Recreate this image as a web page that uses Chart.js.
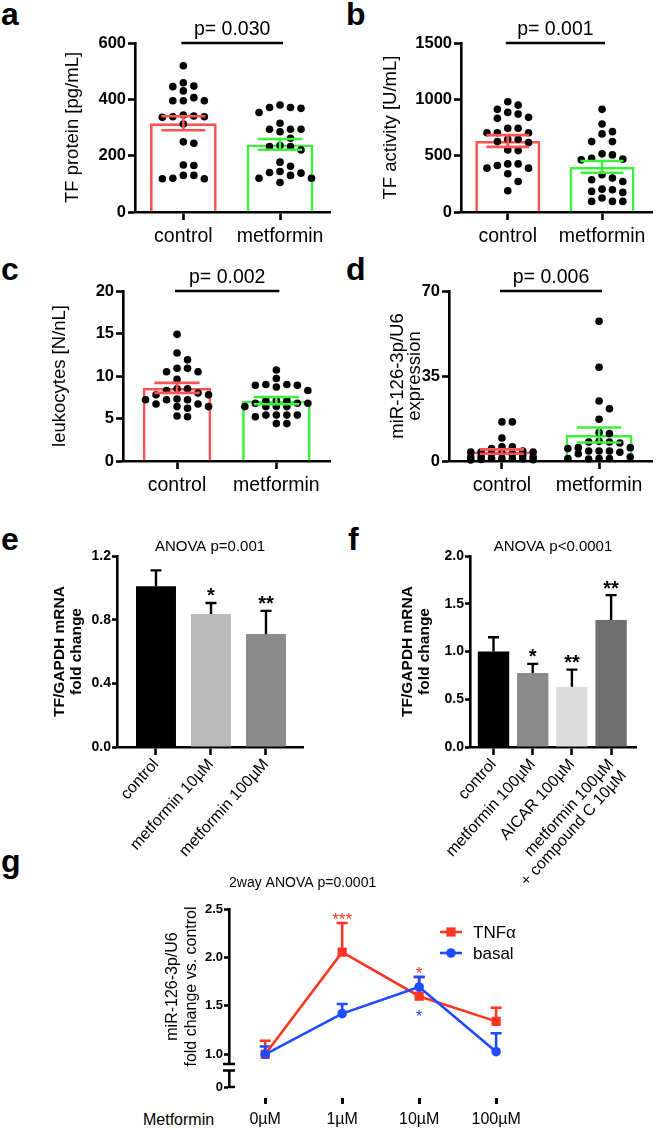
<!DOCTYPE html>
<html><head><meta charset="utf-8">
<script src="https://cdn.jsdelivr.net/npm/chart.js"></script>
<style>
html,body{margin:0;padding:0;background:#fff;}
#page{position:relative;width:656px;height:1130px;overflow:hidden;background:#fff;}
#page canvas{position:absolute;}
.lt{position:absolute;font:bold 32px 'Liberation Sans',Arial,sans-serif;line-height:32px;color:#000;}
.met{position:absolute;font:16px 'Liberation Sans',Arial,sans-serif;line-height:16px;color:#000;}
</style></head><body><div id="page">
<div class="lt" style="left:1px;top:-2px">a</div>
<div class="lt" style="left:346px;top:-2px">b</div>
<div class="lt" style="left:1px;top:253px">c</div>
<div class="lt" style="left:346px;top:253px">d</div>
<div class="lt" style="left:1px;top:523px">e</div>
<div class="lt" style="left:348px;top:523px">f</div>
<div class="lt" style="left:1px;top:845px">g</div>
<div class="met" style="left:143px;top:1112px">Metformin</div>
</div>
<script>
// ---------------- data ----------------
const cats2 = ['control', 'metformin'];

const aMean = [315, 240];
const aSem = [25, 19];
const aControl = [519,459,447,445,430,406,395,395,395,344,341,338,338,336,312,249,244,167,165,130,130,120,118,118];
const aMetformin = [380,371,371,368,353,315,294,294,294,285,262,236,232,232,220,177,162,144,140,138,130,120,120,105];
const aTicks = [0, 200, 400, 600];

const bMean = [630, 400];
const bSem = [52, 52];
const bControl = [978,949,911,884,869,840,831,743,743,704,704,704,645,645,625,616,551,545,427,427,413,389,389,339,271,189];
const bMetformin = [911,781,713,693,625,625,516,507,477,469,463,330,301,286,271,203,197,183,174,124,94,94,94];
const bTicks = [0, 500, 1000, 1500];

const cMean = [8.6, 7.1];
const cSem = [0.59, 0.43];
const cControl = [14.9,12.7,11.9,10.9,10.9,10.5,10.5,9.6,8.5,8.5,8.3,8.0,7.8,7.8,7.3,7.2,7.2,7.2,6.7,6.7,6.4,6.4,6.2,5.3,5.2];
const cMetformin = [10.7,9.7,9.0,9.0,8.9,8.9,8.7,8.3,7.1,7.1,7.1,6.8,6.8,6.8,6.4,6.4,6.4,6.4,5.4,5.4,5.4,5.4,5.2,4.4,4.4];
const cTicks = [0, 5, 10, 15, 20];

const dMean = [3.9, 10.7];
const dSem = [0.9, 3.1];
const dControl = [16.1,16.1,9.5,5.8,5.8,5.1,4.1,3.7,3.7,3.7,3.3,3.0,3.0,2.3,1.9,1.6,1.6,1.0,1.0,1.0,0.8,0.6,0.5,0.4];
const dMetformin = [57.5,38.6,24.7,21.5,17.2,11.7,11.3,8.1,7.8,7.8,7.4,5.5,5.5,5.1,4.1,4.1,4.1,3.6,3.0,1.6,1.0,1.0,1.0,0.8];
const dTicks = [0, 35, 70];

const eCats = ['control', 'metformin 10µM', 'metformin 100µM'];
const eMean = [1.01, 0.835, 0.71];
const eErr = [0.10, 0.07, 0.145];
const eStars = ['', '*', '**'];
const eTicks = [0, 0.4, 0.8, 1.2];

const fCats = ['control', 'metformin 100µM', 'AICAR 100µM', ['metformin 100µM', '+ compound C 10µM']];
const fMean = [1.0, 0.775, 0.63, 1.33];
const fErr = [0.15, 0.095, 0.18, 0.26];
const fStars = ['', '*', '**', '**'];
const fTicks = [0, 0.5, 1.0, 1.5, 2.0];

const gCats = ['0µM', '1µM', '10µM', '100µM'];
const gTnf = [1.0, 2.055, 1.60, 1.34];
const gTnfErr = [0.14, 0.30, 0.195, 0.14];
const gTnfStars = ['', '***', '*', ''];
const gBasal = [1.0, 1.42, 1.695, 1.027];
const gBasalErr = [0.08, 0.10, 0.105, 0.19];
const gBasalStarsBelow = ['', '', '*', ''];
const gTicks = [1.0, 1.5, 2.0, 2.5];
const gTicksLow = [0];

// ---------------- setup ----------------
const FONT = "'Liberation Sans', Arial, Helvetica, sans-serif";
Chart.defaults.font.family = FONT;
Chart.defaults.color = '#000';
Chart.defaults.animation = false;
Chart.defaults.events = [];
Chart.defaults.plugins.legend.display = false;
Chart.defaults.plugins.tooltip.enabled = false;

const RED = '#ff5252', GREEN = '#3ef03e';
const GRED = '#ff3422', GBLUE = '#1f4cff';
const page = document.getElementById('page');

function mk(left, top, w, h) {
  const c = document.createElement('canvas');
  c.width = w; c.height = h;
  c.style.left = left + 'px'; c.style.top = top + 'px';
  c.style.width = w + 'px'; c.style.height = h + 'px';
  page.appendChild(c);
  return c;
}

// simple beeswarm: spread overlapping points sideways, within a limited width
function swarm(vals, yPx, xPx, maxOff) {
  const STEP = 10.5, MIN = 8;
  const maxK = Math.floor(maxOff * xPx / STEP);
  const cand = [0];
  for (let k = 1; k <= maxK; k++) { cand.push(k, -k); }
  const placed = [], offs = new Array(vals.length);
  const order = vals.map((v, i) => i).sort((p, q) => vals[q] - vals[p]);
  for (const i of order) {
    const y = vals[i] * yPx;
    let best = 0, bestD = -1;
    for (const m of cand) {
      const x = m * STEP;
      let d = Infinity;
      for (const p of placed) d = Math.min(d, Math.hypot(p.x - x, p.y - y));
      if (d >= MIN) { best = x; bestD = d; break; }
      if (d > bestD) { bestD = d; best = x; }
    }
    placed.push({x: best, y});
    offs[i] = best / xPx;
  }
  return offs;
}

function drawErr(chart, under) {
  const ctx = chart.ctx;
  chart.data.datasets.forEach((ds, i) => {
    if (!ds.errs || !!ds.errUnder !== under) return;
    const meta = chart.getDatasetMeta(i);
    const ys = chart.scales[meta.yAxisID];
    meta.data.forEach((el, j) => {
      const v = ds.data[j].y, e = ds.errs[j];
      const col = Array.isArray(ds.errColor) ? ds.errColor[j] : ds.errColor;
      const top = ys.getPixelForValue(v + e);
      const bot = ds.errBoth ? ys.getPixelForValue(v - e) : el.y;
      const hw = ds.capFrac ? el.width * ds.capFrac / 2 : ds.capHalf;
      ctx.save();
      ctx.strokeStyle = col; ctx.lineWidth = ds.errWidth;
      ctx.beginPath();
      ctx.moveTo(el.x, bot); ctx.lineTo(el.x, top);
      ctx.moveTo(el.x - hw, top); ctx.lineTo(el.x + hw, top);
      if (ds.errBoth) { ctx.moveTo(el.x - hw, bot); ctx.lineTo(el.x + hw, bot); }
      ctx.stroke();
      ctx.restore();
    });
  });
}

const errbars = {
  id: 'errbars',
  beforeDatasetsDraw(chart) { drawErr(chart, true); },
  afterDatasetsDraw(chart) {
    drawErr(chart, false);
    const ctx = chart.ctx;
    chart.data.datasets.forEach((ds, i) => {
      if (!ds.stars && !ds.starsBelow) return;
      const meta = chart.getDatasetMeta(i);
      const ys = chart.scales[meta.yAxisID];
      meta.data.forEach((el, j) => {
        ctx.save();
        ctx.fillStyle = ds.starColor || '#000';
        ctx.font = ds.starFont;
        ctx.textAlign = 'center'; ctx.textBaseline = 'alphabetic';
        if (ds.stars && ds.stars[j]) {
          const top = ys.getPixelForValue(ds.data[j].y + ds.errs[j]);
          ctx.fillText(ds.stars[j], el.x, top + ds.starGap);
        }
        if (ds.starsBelow && ds.starsBelow[j]) {
          ctx.fillText(ds.starsBelow[j], el.x, el.y + ds.starBelowGap);
        }
        ctx.restore();
      });
    });
  }
};

const pbar = {
  id: 'pbar',
  afterDraw(chart, args, o) {
    if (!o || !o.text) return;
    const x = chart.scales.x, ctx = chart.ctx, top = chart.chartArea.top;
    const x0 = x.getPixelForValue(0) - 2, x1 = x.getPixelForValue(1) + 3;
    ctx.save();
    ctx.strokeStyle = '#000'; ctx.lineWidth = 2.6;
    ctx.beginPath(); ctx.moveTo(x0, top); ctx.lineTo(x1, top); ctx.stroke();
    ctx.font = '19.5px ' + FONT; ctx.fillStyle = '#000';
    ctx.textAlign = 'center'; ctx.textBaseline = 'alphabetic';
    ctx.fillText(o.text, (x0 + x1) / 2, top - 8);
    ctx.restore();
  }
};

const gbreak = {
  id: 'gbreak',
  afterDraw(chart, args, o) {
    if (!o || !o.on) return;
    const ctx = chart.ctx, a = chart.scales.y, b = chart.scales.y0;
    const x = chart.chartArea.left;
    const y1 = a.bottom, y2 = a.bottom + 6.5;
    ctx.save();
    ctx.fillStyle = '#fff';
    ctx.fillRect(x - 3, y1 + 0.5, 6, 6);
    ctx.strokeStyle = '#000'; ctx.lineWidth = 2.6;
    ctx.beginPath();
    ctx.moveTo(x - 6, y1); ctx.lineTo(x + 6, y1);
    ctx.moveTo(x - 6, y2); ctx.lineTo(x + 6, y2);
    ctx.moveTo(x, b.bottom); ctx.lineTo(x + 6, b.bottom);
    ctx.stroke();
    ctx.restore();
  }
};

const glegend = {
  id: 'glegend',
  afterDraw(chart, args, o) {
    if (!o || !o.on) return;
    const ctx = chart.ctx;
    chart.data.datasets.forEach((ds, i) => {
      const y = o.y + i * o.dy;
      ctx.save();
      ctx.strokeStyle = ds.borderColor; ctx.fillStyle = ds.borderColor; ctx.lineWidth = ds.borderWidth;
      ctx.beginPath(); ctx.moveTo(o.x, y); ctx.lineTo(o.x + o.len, y); ctx.stroke();
      const cx = o.x + o.len / 2;
      if (ds.pointStyle === 'rect') {
        const s = ds.pointRadius * Math.SQRT2;
        ctx.fillRect(cx - s / 2, y - s / 2, s, s);
      } else {
        ctx.beginPath(); ctx.arc(cx, y, ds.pointRadius, 0, Math.PI * 2); ctx.fill();
      }
      ctx.fillStyle = '#000';
      ctx.font = o.font; ctx.textAlign = 'left'; ctx.textBaseline = 'middle';
      ctx.fillText(ds.label, o.x + o.len + o.gap, y + 1);
      ctx.restore();
    });
  }
};

Chart.register(errbars, pbar, gbreak, glegend);

const axisGrid = (len) => ({display: true, drawOnChartArea: false, drawTicks: true, tickLength: len,
  tickWidth: 2.6, tickColor: '#000', color: '#000', offset: false});
const axisBorder = {display: true, color: '#000', width: 2.6};

// ---------------- panels a-d ----------------
function dotPanel(left, top, G, means, sems, groups, ticks, title, titleFont, titlePad, ptext) {
  const yPx = (G.B - G.T) / (ticks[ticks.length - 1] - ticks[0]);
  const xPx = (G.R - G.L) / (G.xmax - G.xmin);
  const pts = [];
  groups.forEach((vals, gi) => {
    const offs = swarm(vals, yPx, xPx, 0.34);
    vals.forEach((v, k) => pts.push({x: gi + offs[k], y: v}));
  });
  new Chart(mk(left, top, G.W, G.H), {
    type: 'bar',
    data: {datasets: [
      {type: 'scatter', data: pts, order: 0, pointRadius: 3.8, backgroundColor: '#000',
       borderWidth: 0, clip: false},
      {type: 'bar', data: means.map((m, i) => ({x: i, y: m})), order: 1,
       backgroundColor: 'rgba(255,255,255,0)', borderColor: [RED, GREEN], borderWidth: 2.6,
       barPercentage: 0.69, categoryPercentage: 1,
       errs: sems, errBoth: true, errColor: [RED, GREEN], capFrac: 0.66, errWidth: 2.6}
    ]},
    options: {
      responsive: false,
      layout: {padding: {left: 0, top: G.T, right: G.W - G.R, bottom: 0}},
      scales: {
        x: {type: 'linear', min: G.xmin, max: G.xmax, offset: false,
            afterFit: s => { s.height = G.H - G.B; },
            afterBuildTicks: s => { s.ticks = cats2.map((c, i) => ({value: i})); },
            ticks: {callback: (v, i) => cats2[i], font: {size: 19.5}, color: '#000', padding: 5,
                    autoSkip: false, maxRotation: 0, minRotation: 0},
            grid: axisGrid(8), border: axisBorder},
        y: {type: 'linear', min: ticks[0], max: ticks[ticks.length - 1],
            afterFit: s => { s.width = G.L; },
            afterBuildTicks: s => { s.ticks = ticks.map(v => ({value: v})); },
            ticks: {font: {size: 16.5, weight: 'bold'}, color: '#000', padding: 2,
                    callback: v => String(v)},
            grid: axisGrid(7), border: axisBorder,
            title: {display: true, text: title, font: titleFont, color: '#000',
                    padding: {top: titlePad, bottom: 0}}}
      },
      plugins: {pbar: {text: ptext}}
    }
  });
}

dotPanel(0, 0, {W: 335, H: 255, L: 135, T: 43, R: 330, B: 212, xmin: -0.5, xmax: 1.517},
  aMean, aSem, [aControl, aMetformin], aTicks, 'TF protein [pg/mL]', {size: 18.5}, 62, 'p= 0.030');
dotPanel(330, 0, {W: 326, H: 255, L: 131, T: 43, R: 324, B: 212, xmin: -0.496, xmax: 1.53},
  bMean, bSem, [bControl, bMetformin], bTicks, 'TF activity [U/mL]', {size: 18.5}, 50, 'p= 0.001');
dotPanel(0, 245, {W: 335, H: 260, L: 123, T: 46, R: 330, B: 216, xmin: -0.544, xmax: 1.54},
  cMean, cSem, [cControl, cMetformin], cTicks, 'leukocytes [N/nL]', {size: 18.5}, 49, 'p= 0.002');
dotPanel(330, 245, {W: 326, H: 260, L: 119, T: 46, R: 324, B: 216, xmin: -0.545, xmax: 1.545},
  dMean, dSem, [dControl, dMetformin], dTicks, ['miR-126-3p/U6', 'expression'],
  {size: 18.5, lineHeight: 0.92}, 59, 'p= 0.006');

// ---------------- panels e-f ----------------
function barPanel(left, top, G, cats, means, errs, stars, colors, ticks, anova, titlePad) {
  new Chart(mk(left, top, G.W, G.H), {
    type: 'bar',
    data: {datasets: [
      {data: means.map((m, i) => ({x: i, y: m})), backgroundColor: colors, borderWidth: 0,
       barPercentage: G.bp, categoryPercentage: 1,
       errs: errs, errBoth: false, errColor: '#000', capHalf: 5.5, errWidth: 2.4,
       stars: stars, starColor: '#000', starFont: 'bold 20px ' + FONT, starGap: -0.5}
    ]},
    options: {
      responsive: false,
      layout: {padding: {left: 0, top: G.T - 18, right: G.W - G.R, bottom: 0}},
      scales: {
        x: {type: 'linear', min: G.xmin, max: G.xmax, offset: false,
            afterFit: s => { s.height = G.H - G.B; },
            afterBuildTicks: s => { s.ticks = cats.map((c, i) => ({value: i})); },
            ticks: {callback: (v, i) => cats[i], font: {size: 16, lineHeight: 1.05}, color: '#000', padding: 1,
                    autoSkip: false, maxRotation: 48, minRotation: 48},
            grid: axisGrid(8), border: axisBorder},
        y: {type: 'linear', min: ticks[0], max: ticks[ticks.length - 1],
            afterFit: s => { s.width = G.L; },
            afterBuildTicks: s => { s.ticks = ticks.map(v => ({value: v})); },
            ticks: {font: {size: 14, weight: 'bold'}, color: '#000', padding: 1,
                    callback: v => v.toFixed(1)},
            grid: axisGrid(5), border: axisBorder,
            title: {display: true, text: ['TF/GAPDH mRNA', 'fold change'],
                    font: {size: 15.5, weight: 'bold', lineHeight: 1.1}, color: '#000',
                    padding: {top: titlePad, bottom: 0}}}
      },
      plugins: {
        title: {display: true, text: anova, fullSize: false, align: 'center',
                font: {size: 15, weight: 'normal'}, color: '#000', padding: {top: 0, bottom: 0}}
      }
    }
  });
}

barPanel(0, 520, {W: 330, H: 350, L: 117, T: 36, R: 303, B: 227, xmin: -0.709, xmax: 2.673, bp: 0.727},
  eCats, eMean, eErr, eStars, ['#000000', '#b9b9b9', '#8c8c8c'], eTicks, 'ANOVA p=0.001', 51.5);
barPanel(330, 520, {W: 326, H: 385, L: 140, T: 36, R: 306, B: 227, xmin: -0.6, xmax: 3.635, bp: 0.8},
  fCats, fMean, fErr, fStars, ['#000000', '#8a8a8a', '#dcdcdc', '#6f6f6f'], fTicks, 'ANOVA p<0.0001', 69.5);

// ---------------- panel g ----------------
(function () {
  const G = {W: 656, H: 270, L: 229, T: 49, R: 520, B: 227};
  new Chart(mk(0, 860, G.W, G.H), {
    type: 'line',
    data: {datasets: [
      {label: 'TNFα', data: gTnf.map((v, i) => ({x: i, y: v})), yAxisID: 'y', order: 1,
       borderColor: GRED, backgroundColor: GRED, pointStyle: 'rect', pointRadius: 6.5,
       pointBorderWidth: 0, borderWidth: 2.6, tension: 0, clip: false,
       errs: gTnfErr, errColor: GRED, capHalf: 5.5, errWidth: 2.6, errUnder: true,
       stars: gTnfStars, starColor: GRED, starFont: '17px ' + FONT, starGap: 1.5},
      {label: 'basal', data: gBasal.map((v, i) => ({x: i, y: v})), yAxisID: 'y', order: 0,
       borderColor: GBLUE, backgroundColor: GBLUE, pointStyle: 'circle', pointRadius: 4.8,
       pointBorderWidth: 0, borderWidth: 2.6, tension: 0, clip: false,
       errs: gBasalErr, errColor: GBLUE, capHalf: 5.5, errWidth: 2.6, errUnder: true,
       starsBelow: gBasalStarsBelow, starColor: GBLUE, starFont: '17px ' + FONT, starBelowGap: 35}
    ]},
    options: {
      responsive: false,
      layout: {padding: {left: 0, top: G.T - 16.8 - 17, right: G.W - G.R, bottom: 0}},
      scales: {
        x: {type: 'linear', min: -0.47, max: 3.31, offset: false,
            afterFit: s => { s.height = G.H - G.B; },
            afterBuildTicks: s => { s.ticks = gCats.map((c, i) => ({value: i})); },
            ticks: {callback: (v, i) => gCats[i], font: {size: 16}, color: '#000', padding: 6,
                    autoSkip: false, maxRotation: 0, minRotation: 0},
            grid: {display: true, drawOnChartArea: false, tickLength: 17, tickWidth: 3,
                   tickColor: '#000', color: '#000', offset: false, tickBorderDash: [0, 11, 6, 60]},
            border: {display: false}},
        y0: {type: 'linear', position: 'left', stack: 'g', stackWeight: 23, min: 0, max: 0.35,
             afterFit: s => { s.width = G.L; },
             afterBuildTicks: s => { s.ticks = gTicksLow.map(v => ({value: v})); },
             ticks: {font: {size: 13, weight: 'bold'}, color: '#000', padding: 1, callback: v => String(v)},
             grid: axisGrid(5), border: axisBorder},
        y: {type: 'linear', position: 'left', stack: 'g', stackWeight: 155, min: 0.9, max: 2.5,
            afterFit: s => { s.width = G.L; },
            afterBuildTicks: s => { s.ticks = gTicks.map(v => ({value: v})); },
            ticks: {font: {size: 13, weight: 'bold'}, color: '#000', padding: 1, callback: v => v.toFixed(1)},
            grid: axisGrid(5), border: axisBorder,
            title: {display: true, text: ['miR-126-3p/U6', 'fold change vs. control'],
                    font: {size: 16, lineHeight: 1.2}, color: '#000', padding: {top: 163, bottom: 0}}}
      },
      plugins: {
        title: {display: true, text: '2way ANOVA p=0.0001', fullSize: false, align: 'start',
                font: {size: 14, weight: 'normal'}, color: '#000', padding: {top: 0, bottom: 17}},
        gbreak: {on: true},
        glegend: {on: true, x: 440, y: 72, dy: 21, len: 22, gap: 11, font: '17px ' + FONT}
      }
    }
  });
})();
</script>
</body></html>
